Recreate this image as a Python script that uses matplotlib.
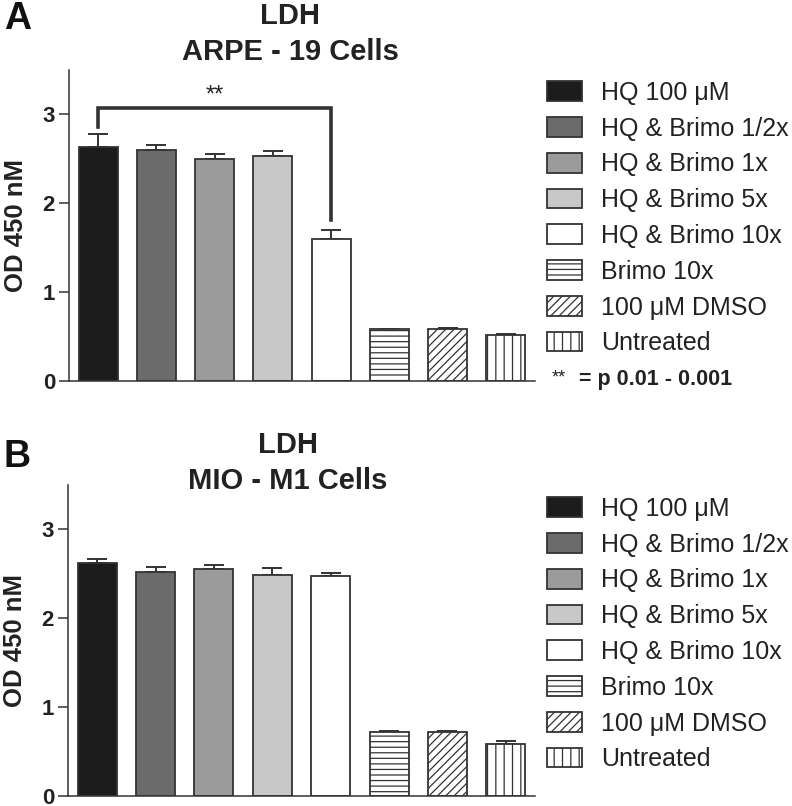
import matplotlib
matplotlib.use("Agg")
import matplotlib.pyplot as plt
from matplotlib.patches import Patch

plt.rcParams['font.family'] = ['Liberation Sans', 'DejaVu Sans']
plt.rcParams['hatch.linewidth'] = 0.9

# treatment groups (same for both cell lines)
groups = ['HQ 100 \u03bcM', 'HQ & Brimo 1/2x', 'HQ & Brimo 1x', 'HQ & Brimo 5x',
          'HQ & Brimo 10x', 'Brimo 10x', '100 \u03bcM DMSO', 'Untreated']
fills = ['#1c1c1c', '#6b6b6b', '#9b9b9b', '#c8c8c8', 'white', 'white', 'white', 'white']
hatches = [None, None, None, None, None, '---', '////', '||']

# panel A - ARPE-19
arpe_mean = [2.63, 2.60, 2.50, 2.53, 1.60, 0.58, 0.58, 0.52]
arpe_err = [0.15, 0.06, 0.05, 0.06, 0.10, 0.01, 0.02, 0.01]
# panel B - MIO-M1
mio_mean = [2.62, 2.52, 2.55, 2.49, 2.48, 0.725, 0.72, 0.59]
mio_err = [0.05, 0.06, 0.05, 0.08, 0.03, 0.01, 0.01, 0.03]

# significance bracket in panel A: between group 0 and group 4
sig_pair = (0, 4)
sig_top = 3.07
sig_ends = (2.86, 1.81)

W, H = 792, 806
fig = plt.figure(figsize=(W / 100, H / 100), dpi=100)
TXT = '#222222'
EDGE = '#333333'


def px_axes(left, top, right, bottom):
    return fig.add_axes([left / W, 1 - bottom / H, (right - left) / W, (bottom - top) / H])


def draw_panel(ax, means, errs):
    x = list(range(len(means)))
    bars = ax.bar(x, means, width=0.67, color=fills, edgecolor=EDGE, linewidth=1.3, zorder=2)
    for b, h in zip(bars, hatches):
        if h:
            b.set_hatch(h)
    ax.errorbar(x, means, yerr=[[0] * len(errs), errs], fmt='none', ecolor=EDGE,
                elinewidth=1.4, capsize=7, capthick=1.4, zorder=1)
    ax.set_xlim(-0.5, 7.5)
    ax.set_ylim(0, 3.5)
    ax.set_yticks([0, 1, 2, 3])
    ax.set_xticks([])
    for s in ['top', 'right']:
        ax.spines[s].set_visible(False)
    for s in ['left', 'bottom']:
        ax.spines[s].set_color(EDGE)
        ax.spines[s].set_linewidth(1.1)
    ax.tick_params(axis='y', length=7, width=1.1, color=EDGE, pad=3, labelsize=16, labelcolor=TXT)
    for lbl in ax.get_yticklabels():
        lbl.set_fontweight('bold')
    ax.set_ylabel('OD 450 nM', fontsize=18.5, fontweight='bold', color=TXT)
    ax.yaxis.set_label_coords(-0.088, 0.5)
    handles = [Patch(facecolor=f, edgecolor=EDGE, linewidth=1.3, hatch=h) for f, h in zip(fills, hatches)]
    return handles


def add_legend(handles, top):
    fig.legend(handles, groups, loc='upper left', bbox_to_anchor=(547 / W, 1 - top / H),
               frameon=False, fontsize=18, handlelength=1.4, handleheight=0.84,
               handletextpad=0.76, labelspacing=0.47, borderpad=0, borderaxespad=0,
               labelcolor=TXT)


# ---- panel A
axA = px_axes(69, 70, 535, 381)
hA = draw_panel(axA, arpe_mean, arpe_err)
x0, x1 = sig_pair
axA.plot([x0, x0, x1, x1], [sig_ends[0], sig_top, sig_top, sig_ends[1]],
         color=EDGE, linewidth=2.6, solid_joinstyle='miter')
axA.text((x0 + x1) / 2, sig_top + 0.02, '**', ha='center', va='bottom', fontsize=17, color=TXT)
add_legend(hA, 81)
fig.text(552 / W, 1 - 378 / H, '**', fontsize=13, color=TXT, va='center', ha='left')
fig.text(579 / W, 1 - 380 / H, '= p 0.01 - 0.001', fontsize=15.5, fontweight='bold',
         color=TXT, va='center', ha='left')
fig.text(290 / W, 1 - 16 / H, 'LDH', fontsize=21, fontweight='bold', color=TXT, ha='center', va='center')
fig.text(290 / W, 1 - 52 / H, 'ARPE - 19 Cells', fontsize=21, fontweight='bold', color=TXT,
         ha='center', va='center')
fig.text(4 / W, 1 - 19 / H, 'A', fontsize=27, fontweight='bold', color='#111111', ha='left', va='center')

# ---- panel B
axB = px_axes(68, 485, 535, 796)
hB = draw_panel(axB, mio_mean, mio_err)
add_legend(hB, 497)
fig.text(288 / W, 1 - 445 / H, 'LDH', fontsize=21, fontweight='bold', color=TXT, ha='center', va='center')
fig.text(288 / W, 1 - 481 / H, 'MIO - M1 Cells', fontsize=21, fontweight='bold', color=TXT,
         ha='center', va='center')
fig.text(4 / W, 1 - 457 / H, 'B', fontsize=27, fontweight='bold', color='#111111', ha='left', va='center')

fig.savefig('out.png', dpi=100)
